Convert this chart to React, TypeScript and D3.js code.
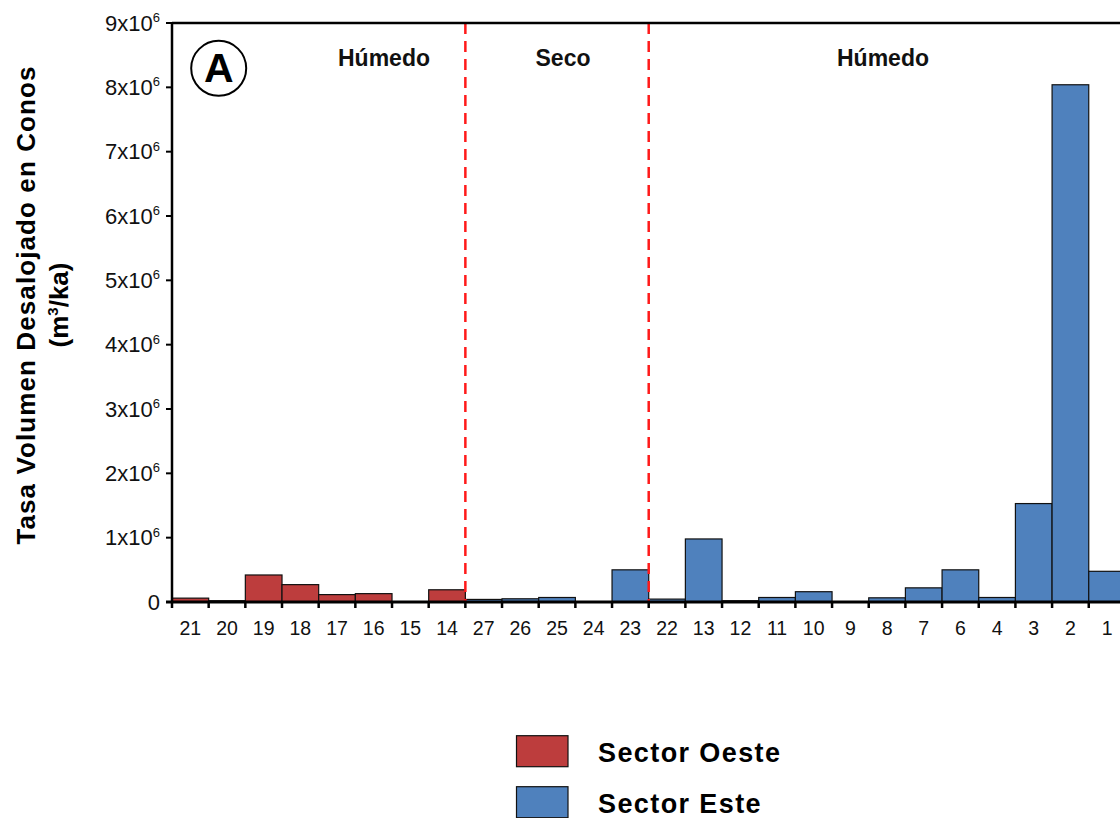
import React, { useEffect } from "react";
import * as d3 from "d3";

const categories = ["21","20","19","18","17","16","15","14","27","26","25","24","23","22","13","12","11","10","9","8","7","6","4","3","2","1"];
const values = [0.06e6,0.02e6,0.42e6,0.27e6,0.115e6,0.13e6,0,0.19e6,0.04e6,0.05e6,0.07e6,0,0.5e6,0.045e6,0.98e6,0.02e6,0.07e6,0.16e6,0,0.065e6,0.22e6,0.5e6,0.07e6,1.53e6,8.04e6,0.477e6];
const sectors = ["Oeste","Oeste","Oeste","Oeste","Oeste","Oeste","Oeste","Oeste","Este","Este","Este","Este","Este","Este","Este","Este","Este","Este","Este","Este","Este","Este","Este","Este","Este","Este"];
const yTicks = [0,1e6,2e6,3e6,4e6,5e6,6e6,7e6,8e6,9e6];
const periodLabels = ["Húmedo", "Seco", "Húmedo"];
const periodCenters = [384, 563, 883];
const dividers = ["27", "22"];
const legendItems = [
  { key: "Oeste", label: "Sector Oeste" },
  { key: "Este", label: "Sector Este" },
];
const colors: Record<string, string> = { Oeste: "#bd3d3d", Este: "#4f81bd" };

const FONT = "'Liberation Sans', Arial, Helvetica, sans-serif";

export default function App() {
  useEffect(() => {
    document.body.style.margin = "0";
  }, []);
  const W = 1120, H = 818;
  const left = 172, bw = 36.67;
  const x = d3.scaleBand<string>().domain(categories).range([left, left + bw * categories.length]).padding(0);
  const y = d3.scaleLinear().domain([0, 9e6]).range([602, 23]);
  const y0 = y(0);
  const yTop = y(9e6);
  const right = W;

  return (
    <svg width={W} height={H} style={{ display: "block" }} fontFamily={FONT}>
      <rect width={W} height={H} fill="#fff" />
      {categories.map((c, i) => (
        <rect key={c} x={x(c)!} y={y(values[i])} width={x.bandwidth()} height={y0 - y(values[i])}
          fill={colors[sectors[i]]} stroke="#111" strokeWidth={1.2} />
      ))}
      {dividers.map((c) => (
        <line key={c} x1={x(c)!} x2={x(c)!} y1={yTop} y2={y0} stroke="#ff1a1a" strokeWidth={2.5} strokeDasharray="11,7" />
      ))}
      <line x1={left} x2={right} y1={yTop} y2={yTop} stroke="#000" strokeWidth={2.5} />
      <line x1={left} x2={left} y1={yTop - 1} y2={y0 + 6} stroke="#000" strokeWidth={2.5} />
      <line x1={left - 6} x2={right} y1={y0} y2={y0} stroke="#000" strokeWidth={3} />
      {categories.map((c) => (
        <line key={"t" + c} x1={x(c)! + bw} x2={x(c)! + bw} y1={y0} y2={y0 + 6} stroke="#000" strokeWidth={2.5} />
      ))}
      {categories.map((c) => (
        <text key={"l" + c} x={x(c)! + bw / 2} y={635} textAnchor="middle" fontSize={19.5} fill="#111">{c}</text>
      ))}
      {yTicks.map((t) => (
        <g key={t}>
          <line x1={left - 6} x2={left} y1={y(t)} y2={y(t)} stroke="#000" strokeWidth={2} />
          {t === 0 ? (
            <text x={160} y={y(t) + 7.5} textAnchor="end" fontSize={22} fill="#111">0</text>
          ) : (
            <text x={160} y={y(t) + 7.5} textAnchor="end" fontSize={22} fill="#111">
              {`${t / 1e6}x10`}
              <tspan fontSize={13} dy={-8.5}>6</tspan>
            </text>
          )}
        </g>
      ))}
      <text transform="translate(35,305) rotate(-90)" textAnchor="middle" fontSize={26} fontWeight="bold" letterSpacing={1.1} fill="#000">
        Tasa Volumen Desalojado en Conos
      </text>
      <text transform="translate(68,305) rotate(-90)" textAnchor="middle" fontSize={26} fontWeight="bold" fill="#000">
        (m<tspan fontSize={15} dy={-10}>3</tspan><tspan dy={10}>/ka)</tspan>
      </text>
      {periodLabels.map((p, i) => (
        <text key={i} x={periodCenters[i]} y={65.7} textAnchor="middle" fontSize={23} fontWeight="bold" fill="#111">{p}</text>
      ))}
      <circle cx={218.7} cy={68.3} r={27.5} fill="none" stroke="#000" strokeWidth={2} />
      <text x={218.7} y={82} textAnchor="middle" fontSize={41} fontWeight="bold" fill="#000">A</text>
      {legendItems.map((l, i) => (
        <g key={l.key} transform={`translate(0,${i * 51})`}>
          <rect x={516.5} y={735.7} width={51.5} height={31} fill={colors[l.key]} stroke="#111" strokeWidth={1.2} />
          <text x={598} y={762.3} fontSize={27} fontWeight="bold" letterSpacing={1.4} fill="#000">{l.label}</text>
        </g>
      ))}
    </svg>
  );
}
